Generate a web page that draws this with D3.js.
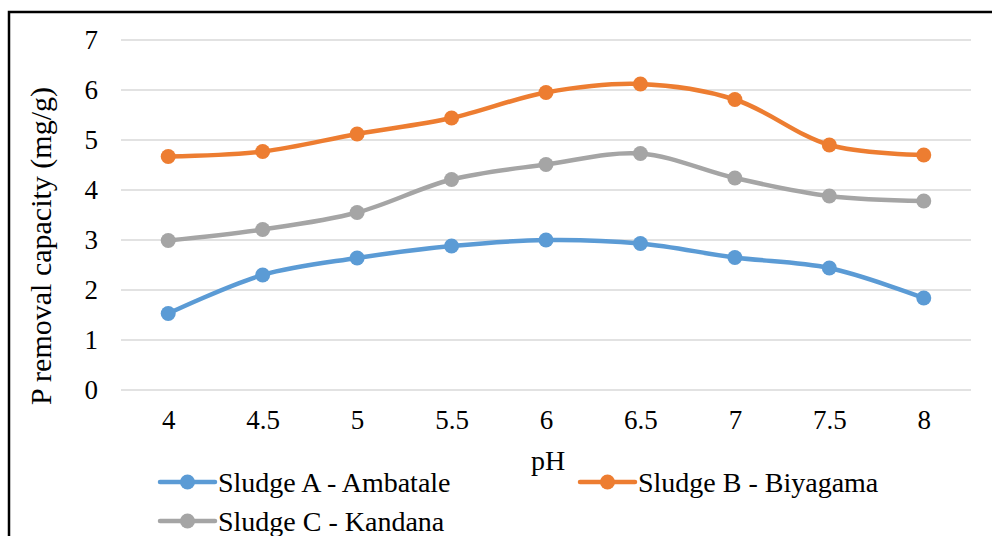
<!DOCTYPE html>
<html><head><meta charset="utf-8">
<script src="https://cdn.jsdelivr.net/npm/d3@7"></script>
<style>html,body{margin:0;padding:0;background:#fff;}svg{display:block;} svg text{font-family:"Liberation Serif","Times New Roman",Tinos,"DejaVu Serif",serif !important;}</style>
</head><body>
<svg id="c" width="992" height="536"></svg>
<script>
const categories = ["4","4.5","5","5.5","6","6.5","7","7.5","8"];
const sludgeA = [1.53,2.30,2.64,2.88,3.00,2.93,2.65,2.44,1.84];
const sludgeB = [4.67,4.77,5.12,5.44,5.95,6.12,5.81,4.90,4.70];
const sludgeC = [2.99,3.21,3.55,4.21,4.51,4.73,4.24,3.88,3.78];
const yTicks = [0,1,2,3,4,5,6,7];
const seriesNames = ["Sludge A - Ambatale","Sludge B - Biyagama","Sludge C - Kandana"];
const colors = ["#5B9BD5","#ED7D31","#A5A5A5"];

const svg = d3.select("#c");

svg.append("rect").attr("x",9).attr("y",12).attr("width",1100).attr("height",700)
  .attr("fill","none").attr("stroke","#000").attr("stroke-width",2.5);

const x = d3.scalePoint().domain(categories).range([121,971]).padding(0.5);
const y = d3.scaleLinear().domain([0,7]).range([390,40]);

// gridlines
svg.append("g").selectAll("line").data(yTicks).join("line")
  .attr("x1",121).attr("x2",971).attr("y1",d=>y(d)).attr("y2",d=>y(d))
  .attr("stroke","#D9D9D9").attr("stroke-width",1.5);

// y axis labels
const yAx = svg.append("g").attr("transform","translate(121,0)")
  .call(d3.axisLeft(y).tickValues(yTicks).tickSize(0).tickPadding(23).tickFormat(d3.format("d")));
yAx.select(".domain").remove();
yAx.selectAll("text").attr("font-size",27).attr("fill","#000");

// x axis labels
const xAx = svg.append("g").attr("transform","translate(0,390)")
  .call(d3.axisBottom(x).tickSize(0).tickPadding(20));
xAx.select(".domain").remove();
xAx.selectAll("text").attr("font-size",27).attr("fill","#000");

// axis titles
svg.append("text").attr("x",548).attr("y",470).attr("text-anchor","middle")
  .attr("font-size",28).text("pH");
svg.append("text").attr("transform","translate(51,246) rotate(-90)").attr("text-anchor","middle")
  .attr("font-size",30).text("P removal capacity (mg/g)");

const line = d3.line().x((d,i)=>x(categories[i])).y(d=>y(d)).curve(d3.curveCatmullRom.alpha(0.5));
const data = [sludgeA,sludgeB,sludgeC];
const order = [2,0,1];
order.forEach(k=>{
  const g = svg.append("g");
  g.append("path").attr("d",line(data[k])).attr("fill","none").attr("stroke",colors[k])
    .attr("stroke-width",4.5).attr("stroke-linecap","round");
  g.selectAll("circle").data(data[k]).join("circle")
    .attr("cx",(d,i)=>x(categories[i])).attr("cy",d=>y(d)).attr("r",7.5).attr("fill",colors[k]);
});

// legend
const legPos = [{lx:160,ly:482},{lx:580,ly:482},{lx:160,ly:521}];
legPos.forEach((p,k)=>{
  const g = svg.append("g");
  g.append("line").attr("x1",p.lx).attr("x2",p.lx+55).attr("y1",p.ly).attr("y2",p.ly)
    .attr("stroke",colors[k]).attr("stroke-width",4.5).attr("stroke-linecap","round");
  g.append("circle").attr("cx",p.lx+27.5).attr("cy",p.ly).attr("r",7.5).attr("fill",colors[k]);
  g.append("text").attr("x",p.lx+58).attr("y",p.ly+10).attr("font-size",28)
    .text(seriesNames[k]);
});
</script>
</body></html>
